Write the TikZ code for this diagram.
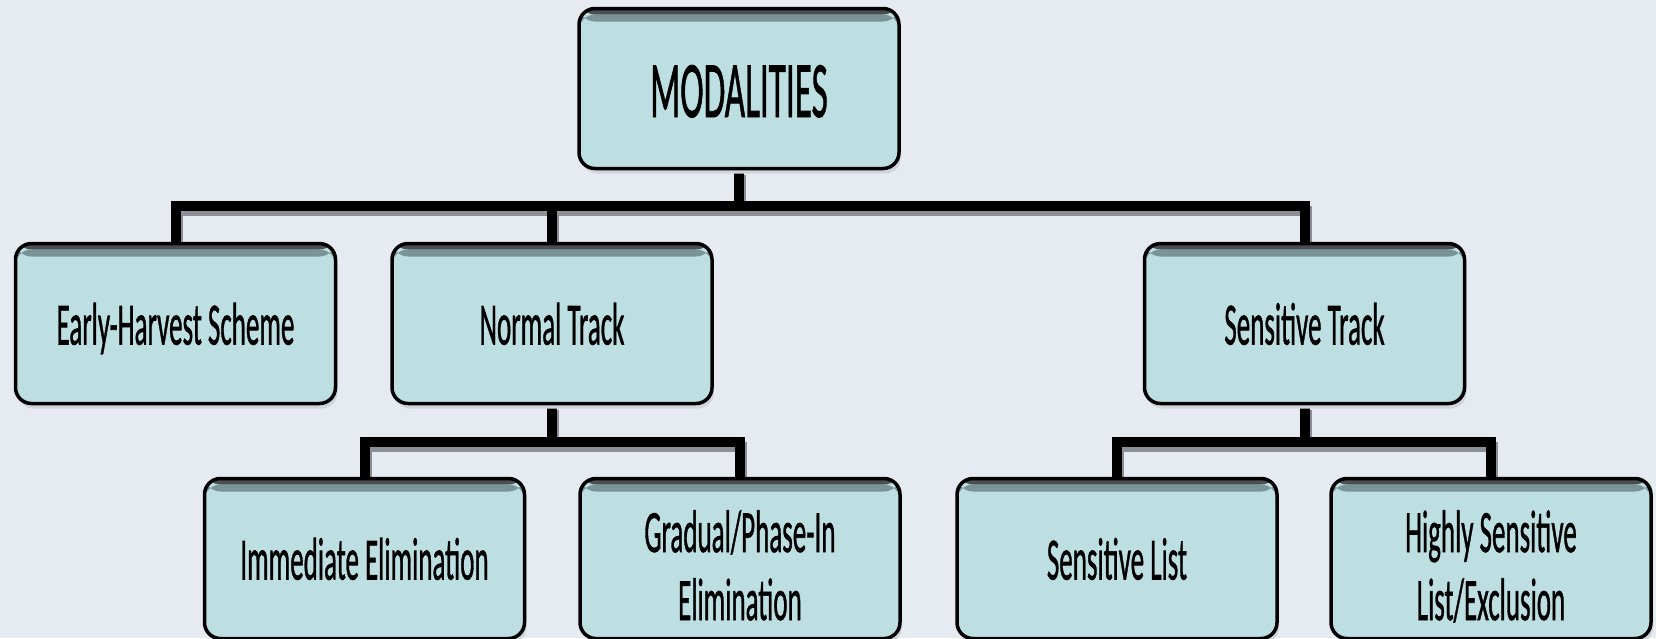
\documentclass[tikz,border=0pt]{standalone}
\usepackage{fontspec}
\setmainfont{Carlito}[FakeBold=1.2]
\usepackage{graphicx}
\usetikzlibrary{shadows,backgrounds}
\definecolor{bg}{RGB}{230,235,242}
\definecolor{boxfill}{RGB}{189,223,226}
\definecolor{topband}{RGB}{74,78,82}
\definecolor{topbandb}{RGB}{122,147,150}
\definecolor{connshadow}{RGB}{140,144,150}
\definecolor{boxshadow}{RGB}{208,213,220}
\newcommand\sq[1]{\scalebox{0.45}[1]{#1}}
\begin{document}
\begin{tikzpicture}[x=1pt,y=-1pt,
  box/.style={draw=black, line width=3.5pt, fill=boxfill, rounded corners=16pt,
    minimum width=320pt, minimum height=160pt, inner sep=0pt,
    font=\fontsize{60}{68}\selectfont, align=center, text=black,
    text height=42pt, text depth=0pt,
    drop shadow={shadow xshift=2pt, shadow yshift=-5pt, fill=boxshadow, opacity=1},
    path picture={
      \fill[topband] ([yshift=2pt]path picture bounding box.north west) rectangle ([yshift=-6pt]path picture bounding box.north east);
      \fill[topbandb] ([yshift=-6pt]path picture bounding box.north west) rectangle ([yshift=-13pt]path picture bounding box.north east);}},
  twoline/.style={text height=123pt, text depth=0pt},
  topbox/.style={font=\fontsize{80}{90}\selectfont, text height=57pt},
  conn/.style={line width=10pt, draw=black},
  connsh/.style={line width=10pt, draw=connshadow, transform canvas={xshift=2pt, yshift=-5pt}}
]
\useasboundingbox (0,0) rectangle (1656,638);

\node[box, topbox] (mod) at (739,88.5) {\scalebox{0.44}[1]{MODALITIES}};
\node[box] (ehs) at (175.5,323.5) {\sq{Early-Harvest Scheme}};
\node[box] (nt) at (552,323.5) {\sq{Normal Track}};
\node[box] (st) at (1304.5,323.5) {\sq{Sensitive Track}};
\node[box] (ie) at (364.5,558.5) {\sq{Immediate Elimination}};
\node[box, twoline] (gp) at (740,558.5) {\sq{Gradual/Phase-In}\\\sq{Elimination}};
\node[box] (sl) at (1117,558.5) {\sq{Sensitive List}};
\node[box, twoline] (hs) at (1491,558.5) {\sq{Highly Sensitive}\\\sq{List/Exclusion}};

\coordinate (b1) at (739,206);
\coordinate (b2) at (552,442);
\coordinate (b3) at (1304.5,442);

\begin{scope}[on background layer]
  \fill[bg] (0,0) rectangle (1656,638);
  \foreach \s in {connsh, conn} {
    \draw[\s] (mod.south) -- (b1);
    \draw[\s] (ehs.north) |- (b1) -| (st.north);
    \draw[\s] (nt.north) -- (nt.north |- b1);
    \draw[\s] (nt.south) -- (b2);
    \draw[\s] (ie.north) |- (b2) -| (gp.north);
    \draw[\s] (st.south) -- (b3);
    \draw[\s] (sl.north) |- (b3) -| (hs.north);
  }
\end{scope}
\end{tikzpicture}
\end{document}
